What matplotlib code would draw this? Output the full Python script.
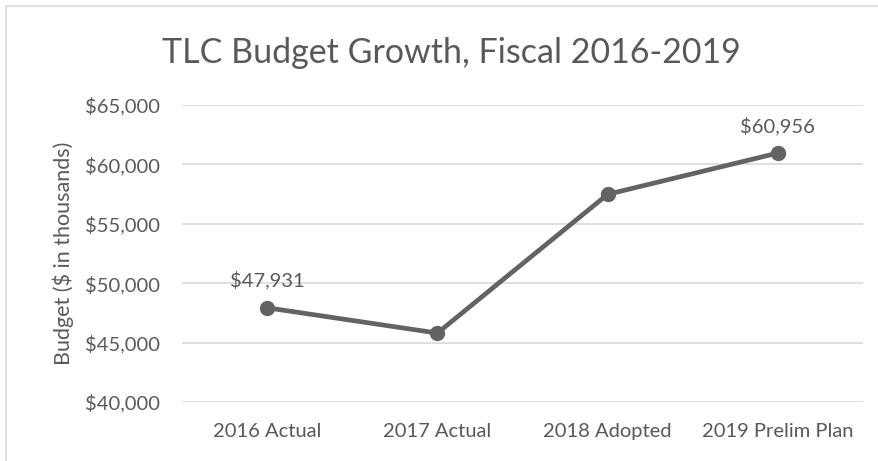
import matplotlib
matplotlib.use("Agg")
import matplotlib.pyplot as plt
from matplotlib.patches import Rectangle
from matplotlib.ticker import FuncFormatter

categories = ["2016 Actual", "2017 Actual", "2018 Adopted", "2019 Prelim Plan"]
budget = [47931, 45800, 57480, 60956]
labeled = [True, False, False, True]
y_ticks = [40000, 45000, 50000, 55000, 60000, 65000]

plt.rcParams['font.family'] = ['Lato', 'DejaVu Sans']
text_color = "#595959"

fig = plt.figure(figsize=(8.79, 4.61), dpi=100)
fig.patch.set_facecolor("white")
fig.patches.append(Rectangle((6/879, -0.1), 2, 1 - 6/461 + 0.1, transform=fig.transFigure,
                             fill=False, edgecolor="#d9d9d9", linewidth=1.2))

ax = fig.add_axes([182/879, 1 - 402/461, (863 - 182)/879, (402 - 105)/461])
x = list(range(len(categories)))
ax.plot(x, budget, color="#636363", linewidth=3.4, marker="o", markersize=10,
        solid_capstyle="round", zorder=3)
for xi, v, lab in zip(x, budget, labeled):
    if lab:
        ax.annotate(f"${v:,.0f}", (xi, v), xytext=(0, 13), textcoords="offset points",
                    ha="center", va="bottom", fontsize=14.5, color=text_color)

ax.set_xlim(-0.5, len(categories) - 0.5)
ax.set_ylim(40000, 65000)
ax.set_yticks(y_ticks)
ax.yaxis.set_major_formatter(FuncFormatter(lambda v, p: f"${v:,.0f}"))
ax.set_xticks(x)
ax.set_xticklabels(categories)
ax.tick_params(axis="both", length=0, labelsize=14.5, colors=text_color)
ax.tick_params(axis="y", pad=16)
ax.tick_params(axis="x", pad=15)
ax.grid(axis="y", color="#d9d9d9", linewidth=1.2)
ax.set_axisbelow(True)
for s in ax.spines.values():
    s.set_visible(False)
ax.set_ylabel("Budget ($ in thousands)", fontsize=15.5, color=text_color, labelpad=8)

fig.text(0.513, 1 - 53/461, "TLC Budget Growth, Fiscal 2016-2019", ha="center", va="center",
         fontsize=24.5, color=text_color)

fig.savefig("out.png", dpi=100)
